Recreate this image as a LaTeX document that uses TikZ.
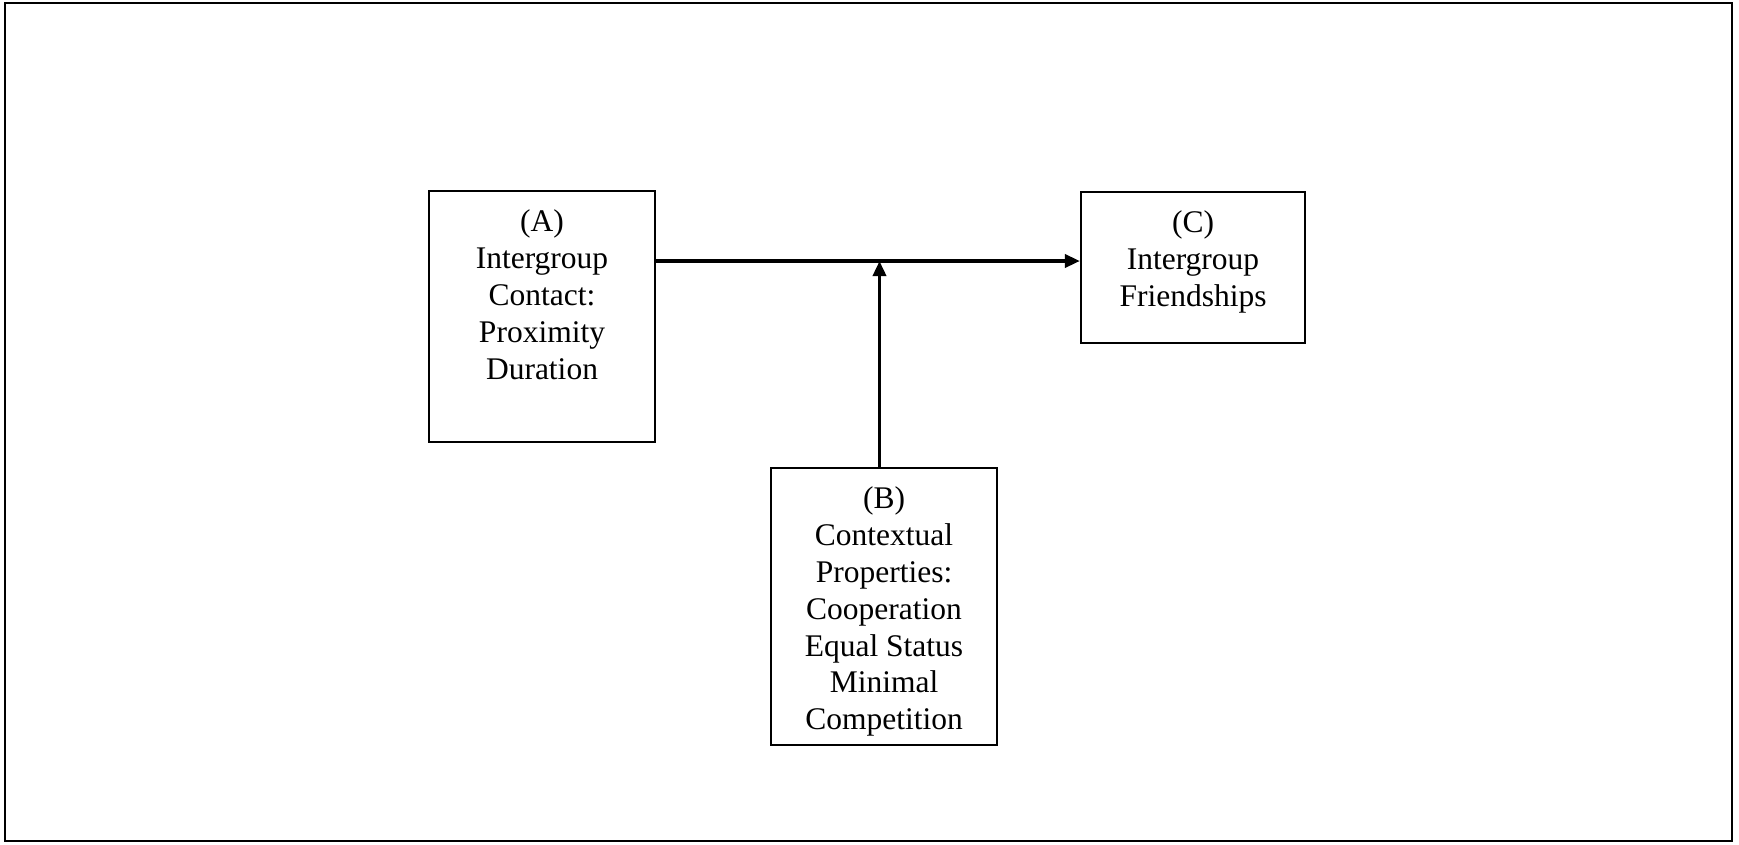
\documentclass[tikz,border=0pt]{standalone}
\usepackage{fontspec}
\setmainfont{Liberation Serif}
\usetikzlibrary{arrows.meta}
\begin{document}
\begin{tikzpicture}[x=1pt,y=-1pt,
  box/.style={draw=black, line width=2.2pt, inner sep=0pt, minimum width=#1},
  label/.style={align=center, inner sep=0pt, anchor=north,
    font=\fontsize{31.5}{36.8}\selectfont},
  link/.style={line width=3.5pt, -{Triangle[length=15pt,width=13pt]}}]
  \useasboundingbox (0,0) rectangle (1739,844);
  % outer frame
  \draw[line width=2.5pt] (5,3) rectangle (1732,841);

  % boxes
  \node[box=226pt, minimum height=251pt] (A) at (542,316.5) {};
  \node[box=224pt, minimum height=151pt] (C) at (1193,267.5) {};
  \node[box=226pt, minimum height=277pt] (B) at (884,606.5) {};

  % box texts, hung a fixed distance below each top edge
  \node[label] (Atext) at ([yshift=-20pt]A.north)
    {(A)\\Intergroup\\Contact:\\Proximity\\Duration};
  \node[label] (Ctext) at ([yshift=-20pt]C.north)
    {(C)\\Intergroup\\Friendships};
  \node[label] (Btext) at ([yshift=-20pt]B.north)
    {(B)\\Contextual\\Properties:\\Cooperation\\Equal Status\\Minimal\\Competition};

  % connectors
  \coordinate (m) at (879.5,261);
  \draw[link] (A.east |- m) -- (C.west |- m);
  \draw[link] (m |- B.north) -- (m);
\end{tikzpicture}
\end{document}
